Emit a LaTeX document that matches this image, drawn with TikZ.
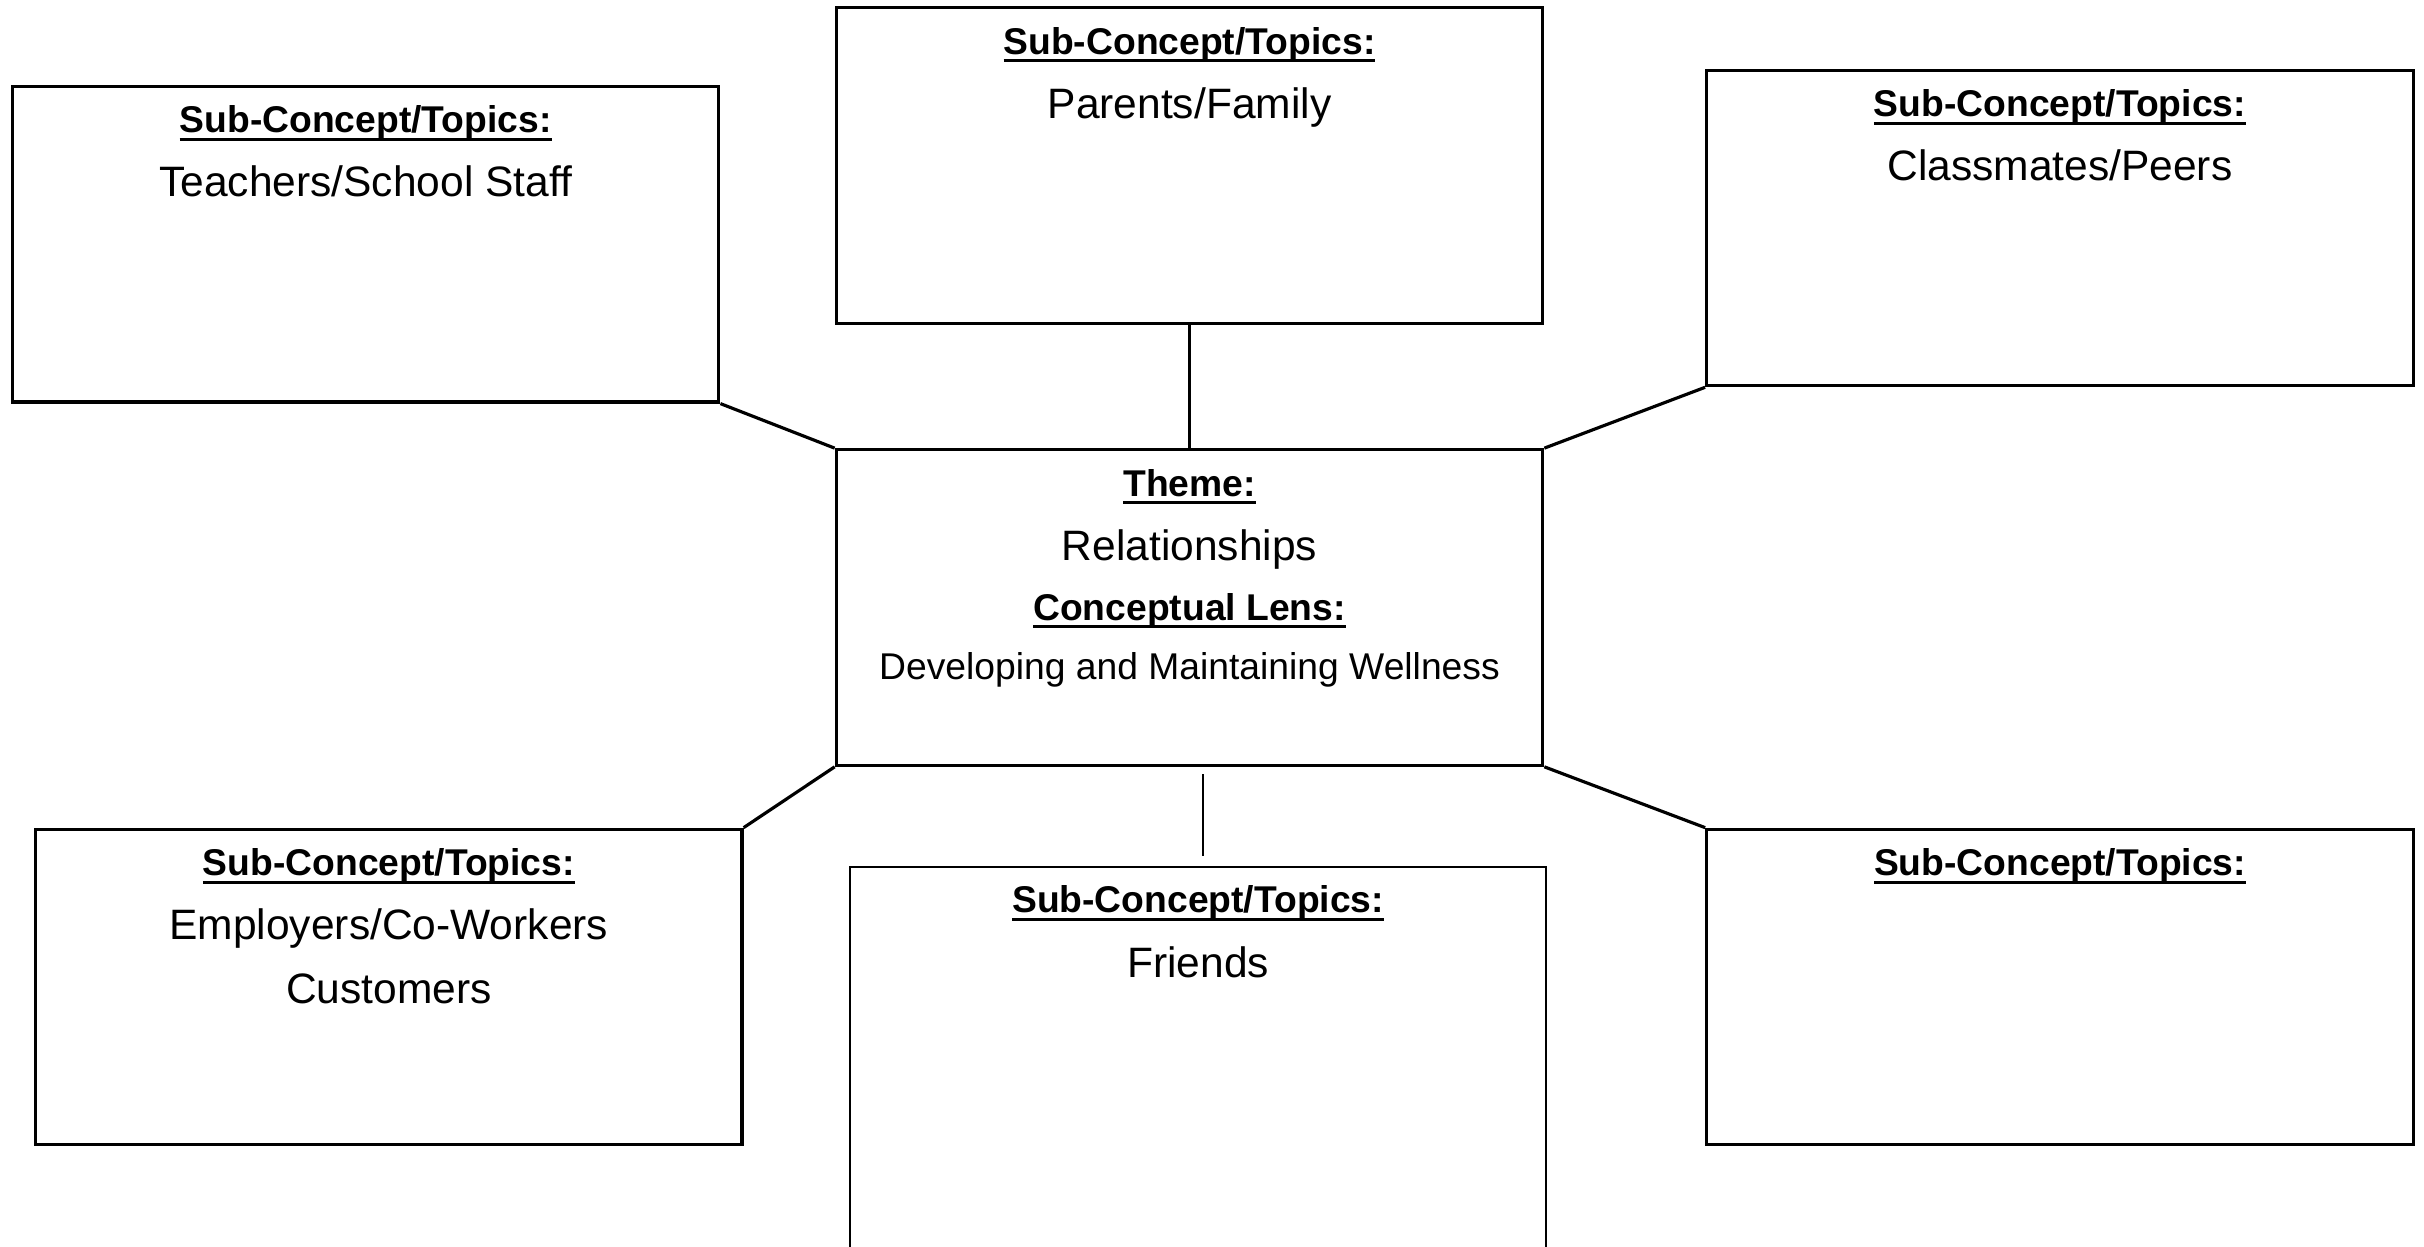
\documentclass[tikz,border=0pt]{standalone}
\usepackage{fontspec}
\setmainfont{Liberation Sans}
\usetikzlibrary{positioning,calc}

\newcommand{\hdline}[1]{\setbox0\hbox{#1}\rlap{\rule[-2.3pt]{\wd0}{0.9pt}}\box0}

\begin{document}
\begin{tikzpicture}[>=stealth]
    \tikzstyle{topic box} = [draw, line width=0.9pt, minimum width=7.065cm, minimum height=3.155cm, inner sep=0pt]
    \tikzstyle{sub head} = [anchor=base, inner sep=0pt, font=\fontsize{10.6}{12}\selectfont\bfseries]
    \tikzstyle{topic} = [anchor=base, inner sep=0pt, font=\fontsize{12.1}{14}\selectfont]
    \tikzstyle{lens} = [anchor=base, inner sep=0pt, font=\fontsize{10.6}{12}\selectfont]
    \useasboundingbox (0,0) rectangle (24.24,12.47);
    % boxes
    \node[topic box] (teachers) at (3.656,10.027) {};
    \node[topic box] (parents) at (11.895,10.816) {};
    \node[topic box] (classmates) at (20.599,10.19) {};
    \node[topic box] (theme) at (11.895,6.395) {};
    \node[topic box] (employers) at (3.888,2.60) {};
    \node[topic box] (blank) at (20.60,2.60) {};
    \node[topic box, line width=0.6pt, minimum width=6.957cm, minimum height=4.5cm, anchor=north] (friends) at (11.981,3.813) {};
    % texts
    \node[sub head] (teachersh) at ([yshift=-4.8mm]teachers.north) {\hdline{Sub-Concept/Topics:}};
    \node[topic] (teacherst) at ([yshift=-11.2mm]teachers.north) {Teachers/School Staff};
    \node[sub head] (parentsh) at ([yshift=-4.8mm]parents.north) {\hdline{Sub-Concept/Topics:}};
    \node[topic] (parentst) at ([yshift=-11.2mm]parents.north) {Parents/Family};
    \node[sub head] (classmatesh) at ([yshift=-4.8mm]classmates.north) {\hdline{Sub-Concept/Topics:}};
    \node[topic] (classmatest) at ([yshift=-11.2mm]classmates.north) {Classmates/Peers};
    \node[sub head] (themeh) at ([yshift=-4.8mm]theme.north) {\hdline{Theme:}};
    \node[topic] (themet) at ([yshift=-11.2mm]theme.north) {Relationships};
    \node[sub head] (lensh) at ([yshift=-17.2mm]theme.north) {\hdline{Conceptual Lens:}};
    \node[lens] (lenst) at ([yshift=-23.1mm]theme.north) {Developing and Maintaining Wellness};
    \node[sub head] (employersh) at ([yshift=-4.8mm]employers.north) {\hdline{Sub-Concept/Topics:}};
    \node[topic] (employerst) at ([yshift=-11.2mm]employers.north) {Employers/Co-Workers};
    \node[topic] (customerst) at ([yshift=-17.6mm]employers.north) {Customers};
    \node[sub head] (blankh) at ([yshift=-4.8mm]blank.north) {\hdline{Sub-Concept/Topics:}};
    \node[sub head] (friendsh) at ([yshift=-4.7mm]friends.north) {\hdline{Sub-Concept/Topics:}};
    \node[topic] (friendst) at ([yshift=-11.2mm]friends.north) {Friends};
    % connectors
    \draw[line width=0.9pt] (parents) -- (theme);
    \draw[line width=0.9pt] (teachers.south east) -- (theme.north west);
    \draw[line width=0.9pt] (classmates.south west) -- (theme.north east);
    \draw[line width=0.9pt] (theme.south west) -- (employers.north east);
    \draw[line width=0.9pt] (theme.south east) -- (blank.north west);
    \coordinate (stubtop) at (12.027,4.725);
    \coordinate (stubbot) at (12.027,3.906);
    \draw[line width=0.45pt] (stubtop) -- (stubbot);
\end{tikzpicture}
\end{document}
